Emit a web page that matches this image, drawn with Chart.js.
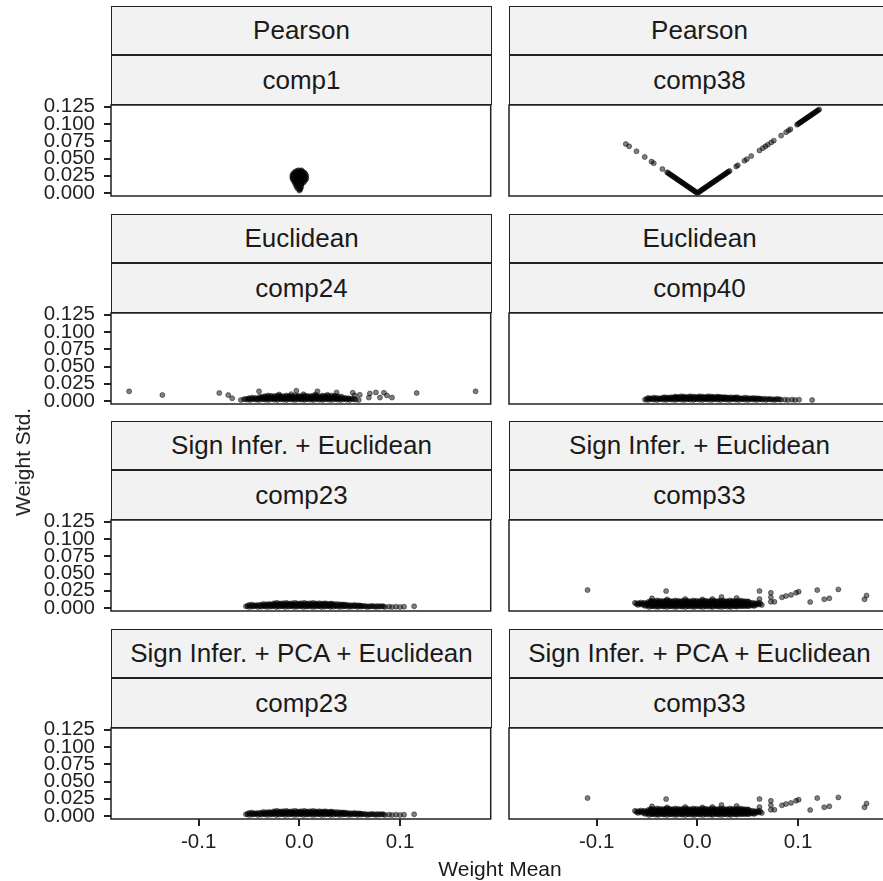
<!DOCTYPE html>
<html>
<head>
<meta charset="utf-8">
<script src="https://cdn.jsdelivr.net/npm/chart.js@4.4.1/dist/chart.umd.min.js"></script>
<style>
  html, body { margin: 0; padding: 0; background: #fff; overflow: hidden; }
  #page { position: relative; width: 883px; height: 881px; overflow: hidden;
          font-family: "Liberation Sans", Arial, sans-serif; color: #1a1a1a; }
  .strip { position: absolute; box-sizing: border-box; border: 1.2px solid #222; background: #f2f2f2;
           display: flex; align-items: center; justify-content: center; font-size: 26px; white-space: nowrap; }
  .axis-title { position: absolute; font-size: 21px; white-space: nowrap; }
  canvas { position: absolute; }
</style>
</head>
<body>
<div id="page"></div>
<script>
// facet labels, left to right, top to bottom
const methods = ['Pearson', 'Pearson', 'Euclidean', 'Euclidean',
  'Sign Infer. + Euclidean', 'Sign Infer. + Euclidean',
  'Sign Infer. + PCA + Euclidean', 'Sign Infer. + PCA + Euclidean'];
const components = ['comp1', 'comp38', 'comp24', 'comp40', 'comp23', 'comp33', 'comp23', 'comp33'];

const xTicks = [-0.1, 0, 0.1];
const yTicks = [0, 0.025, 0.05, 0.075, 0.1, 0.125];
const xRange = [-0.187, 0.19];
const yRange = [-0.0043, 0.1275];

// [weight mean, weight std]
const pearsonComp1 = [
  [-0.001, 0.033], [0.002, 0.033],
  [-0.0025, 0.032], [0.0005, 0.032], [0.003, 0.0315],
  [-0.004, 0.031], [-0.001, 0.030], [0.002, 0.031], [0.004, 0.030], [-0.002, 0.029],
  [-0.005, 0.0295], [0.0055, 0.029],
  [-0.006, 0.028], [-0.003, 0.028], [0.000, 0.027], [0.003, 0.028], [0.006, 0.027], [0.004, 0.026],
  [-0.0065, 0.0265], [-0.0015, 0.0265], [0.0015, 0.0265],
  [-0.007, 0.025], [-0.004, 0.025], [-0.001, 0.024], [0.002, 0.025], [0.005, 0.024], [0.007, 0.025],
  [-0.005, 0.023], [0.003, 0.0235], [-0.0055, 0.0235], [-0.0025, 0.023], [0.0005, 0.023], [0.006, 0.023],
  [-0.007, 0.022], [-0.004, 0.021], [-0.001, 0.022], [0.002, 0.021], [0.005, 0.022], [0.007, 0.021],
  [0.000, 0.0205], [-0.0065, 0.0205], [-0.0025, 0.0195], [0.0035, 0.0205], [0.0055, 0.0205],
  [-0.006, 0.019], [-0.003, 0.018], [0.000, 0.019], [0.003, 0.018], [0.006, 0.019],
  [-0.0045, 0.0175], [0.0015, 0.0175], [0.005, 0.017],
  [-0.005, 0.016], [-0.002, 0.015], [0.001, 0.016], [0.004, 0.015],
  [-0.0035, 0.0145], [0.0025, 0.0145],
  [-0.004, 0.013], [-0.001, 0.012], [0.002, 0.013],
  [-0.002, 0.0115], [0.0015, 0.011],
  [-0.003, 0.010], [0.000, 0.010], [0.002, 0.009], [-0.001, 0.0085],
  [-0.002, 0.007], [0.001, 0.007], [0.000, 0.005], [0.001, 0.0055], [0.000, 0.0035]
];

const pearsonComp38 = [
  [-0.071, 0.071], [-0.0677, 0.0677], [-0.0604, 0.0604], [-0.0522, 0.0522], [-0.0455, 0.0455],
  [-0.0433, 0.0433], [-0.0347, 0.0347],
  [-0.030, 0.030], [-0.029, 0.029], [-0.028, 0.028], [-0.027, 0.027], [-0.026, 0.026], [-0.025, 0.025],
  [-0.024, 0.024], [-0.023, 0.023], [-0.022, 0.022], [-0.021, 0.021], [-0.020, 0.020], [-0.019, 0.019],
  [-0.018, 0.018], [-0.017, 0.017], [-0.016, 0.016], [-0.015, 0.015], [-0.014, 0.014], [-0.013, 0.013],
  [-0.012, 0.012], [-0.011, 0.011], [-0.010, 0.010], [-0.009, 0.009], [-0.008, 0.008], [-0.007, 0.007],
  [-0.006, 0.006], [-0.005, 0.005], [-0.004, 0.004], [-0.003, 0.003], [-0.002, 0.002], [-0.001, 0.001],
  [0.000, 0.000], [0.001, 0.001], [0.002, 0.002], [0.003, 0.003], [0.004, 0.004], [0.005, 0.005],
  [0.006, 0.006], [0.007, 0.007], [0.008, 0.008], [0.009, 0.009], [0.010, 0.010], [0.011, 0.011],
  [0.012, 0.012], [0.013, 0.013], [0.014, 0.014], [0.015, 0.015], [0.016, 0.016], [0.017, 0.017],
  [0.018, 0.018], [0.019, 0.019], [0.020, 0.020], [0.021, 0.021], [0.022, 0.022], [0.023, 0.023],
  [0.024, 0.024], [0.025, 0.025], [0.026, 0.026], [0.027, 0.027], [0.028, 0.028], [0.029, 0.029],
  [0.030, 0.030], [0.031, 0.031], [0.032, 0.032],
  [0.0386, 0.0386], [0.0402, 0.0402], [0.0468, 0.0468], [0.0491, 0.0491], [0.0535, 0.0535],
  [0.0617, 0.0617], [0.065, 0.065], [0.0676, 0.0676], [0.070, 0.070], [0.0733, 0.0733],
  [0.0759, 0.0759], [0.0832, 0.0832], [0.0881, 0.0881], [0.0907, 0.0907], [0.0924, 0.0924],
  [0.099, 0.099], [0.100, 0.100], [0.101, 0.101], [0.102, 0.102], [0.103, 0.103], [0.104, 0.104],
  [0.105, 0.105], [0.106, 0.106], [0.107, 0.107], [0.108, 0.108], [0.109, 0.109], [0.110, 0.110],
  [0.111, 0.111], [0.112, 0.112], [0.113, 0.113], [0.114, 0.114], [0.115, 0.115], [0.116, 0.116],
  [0.117, 0.117], [0.118, 0.118], [0.119, 0.119], [0.120, 0.120], [0.121, 0.121]
];

const euclidComp24 = [
  [-0.169, 0.014], [-0.136, 0.0087], [-0.0795, 0.0116], [-0.0706, 0.0087], [-0.0667, 0.004],
  [-0.040, 0.014], [-0.003, 0.015], [0.018, 0.014], [0.037, 0.0125],
  [0.053, 0.012], [0.055, 0.008], [0.060, 0.009], [0.069, 0.005], [0.070, 0.011], [0.076, 0.0125],
  [0.080, 0.005], [0.084, 0.012], [0.087, 0.008], [0.092, 0.005], [0.1165, 0.0116], [0.175, 0.014],
  [-0.058, 0.0015], [-0.055, 0.0025], [-0.052, 0.002], [-0.049, 0.0015], [-0.046, 0.0025], [-0.043, 0.002],
  [-0.040, 0.0015], [-0.037, 0.0025], [-0.034, 0.002], [-0.031, 0.0015], [-0.028, 0.0025], [-0.025, 0.002],
  [-0.022, 0.0015], [-0.019, 0.0025], [-0.016, 0.002], [-0.013, 0.0015], [-0.010, 0.0025], [-0.007, 0.002],
  [-0.004, 0.0015], [-0.001, 0.0025], [0.002, 0.002], [0.005, 0.0015], [0.008, 0.0025], [0.011, 0.002],
  [0.014, 0.0015], [0.017, 0.0025], [0.020, 0.002], [0.023, 0.0015], [0.026, 0.0025], [0.029, 0.002],
  [0.032, 0.0015], [0.035, 0.0025], [0.038, 0.002], [0.041, 0.0015], [0.044, 0.0025], [0.047, 0.002],
  [0.050, 0.0015], [0.053, 0.0025], [0.056, 0.002], [0.059, 0.0015],
  [-0.0535, 0.003], [-0.0505, 0.0035], [-0.0475, 0.003], [-0.0445, 0.0035], [-0.0415, 0.003], [-0.0385, 0.0035],
  [-0.0355, 0.003], [-0.0325, 0.0035], [-0.0295, 0.003], [-0.0265, 0.0035], [-0.0235, 0.003], [-0.0205, 0.0035],
  [-0.0175, 0.003], [-0.0145, 0.0035], [-0.0115, 0.003], [-0.0085, 0.0035], [-0.0055, 0.003], [-0.0025, 0.0035],
  [0.0005, 0.003], [0.0035, 0.0035], [0.0065, 0.003], [0.0095, 0.0035], [0.0125, 0.003], [0.0155, 0.0035],
  [0.0185, 0.003], [0.0215, 0.0035], [0.0245, 0.003], [0.0275, 0.0035], [0.0305, 0.003], [0.0335, 0.0035],
  [0.0365, 0.003], [0.0395, 0.0035], [0.0425, 0.003], [0.0455, 0.0035], [0.0485, 0.003], [0.0515, 0.0035],
  [0.0545, 0.003],
  [-0.050, 0.004], [-0.047, 0.005], [-0.044, 0.0045], [-0.041, 0.004], [-0.038, 0.005], [-0.035, 0.0045],
  [-0.032, 0.004], [-0.029, 0.005], [-0.026, 0.0045], [-0.023, 0.004], [-0.020, 0.005], [-0.017, 0.0045],
  [-0.014, 0.004], [-0.011, 0.005], [-0.008, 0.0045], [-0.005, 0.004], [-0.002, 0.005], [0.001, 0.0045],
  [0.004, 0.004], [0.007, 0.005], [0.010, 0.0045], [0.013, 0.004], [0.016, 0.005], [0.019, 0.0045],
  [0.022, 0.004], [0.025, 0.005], [0.028, 0.0045], [0.031, 0.004], [0.034, 0.005], [0.037, 0.0045],
  [0.040, 0.004], [0.043, 0.005], [0.046, 0.0045], [0.049, 0.004],
  [-0.0395, 0.006], [-0.0365, 0.0065], [-0.0335, 0.006], [-0.0305, 0.0065], [-0.0275, 0.006], [-0.0245, 0.0065],
  [-0.0215, 0.006], [-0.0185, 0.0065], [-0.0155, 0.006], [-0.0125, 0.0065], [-0.0095, 0.006], [-0.0065, 0.0065],
  [-0.0035, 0.006], [-0.0005, 0.0065], [0.0025, 0.006], [0.0055, 0.0065], [0.0085, 0.006], [0.0115, 0.0065],
  [0.0145, 0.006], [0.0175, 0.0065], [0.0205, 0.006], [0.0235, 0.0065], [0.0265, 0.006], [0.0295, 0.0065],
  [0.0325, 0.006], [0.0355, 0.0065], [0.0385, 0.006], [0.0415, 0.0065],
  [-0.034, 0.007], [-0.031, 0.008], [-0.028, 0.0075], [-0.025, 0.007], [-0.022, 0.008], [-0.019, 0.0075],
  [-0.016, 0.007], [-0.013, 0.008], [-0.010, 0.0075], [-0.007, 0.007], [-0.004, 0.008], [-0.001, 0.0075],
  [0.002, 0.007], [0.005, 0.008], [0.008, 0.0075], [0.011, 0.007], [0.014, 0.008], [0.017, 0.0075],
  [0.020, 0.007], [0.023, 0.008], [0.026, 0.0075], [0.029, 0.007], [0.032, 0.008], [0.035, 0.0075],
  [0.038, 0.007],
  [-0.020, 0.0095], [-0.008, 0.010], [0.004, 0.0098], [0.016, 0.0095], [0.028, 0.009]
];

const euclidComp40 = [
  [-0.052, 0.002], [-0.049, 0.0015], [-0.046, 0.0025], [-0.043, 0.002], [-0.040, 0.0015], [-0.037, 0.0025],
  [-0.034, 0.002], [-0.031, 0.0015], [-0.028, 0.0025], [-0.025, 0.002], [-0.022, 0.0015], [-0.019, 0.0025],
  [-0.016, 0.002], [-0.013, 0.0015], [-0.010, 0.0025], [-0.007, 0.002], [-0.004, 0.0015], [-0.001, 0.0025],
  [0.002, 0.002], [0.005, 0.0015], [0.008, 0.0025], [0.011, 0.002], [0.014, 0.0015], [0.017, 0.0025],
  [0.020, 0.002], [0.023, 0.0015], [0.026, 0.0025], [0.029, 0.002], [0.032, 0.0015], [0.035, 0.0025],
  [0.038, 0.002], [0.041, 0.0015], [0.044, 0.0025], [0.047, 0.002], [0.050, 0.0015], [0.053, 0.0025],
  [0.056, 0.002], [0.059, 0.0015], [0.062, 0.0025], [0.065, 0.002], [0.068, 0.0015], [0.071, 0.0025],
  [0.074, 0.002], [0.077, 0.0015], [0.080, 0.0025], [0.083, 0.002],
  [0.087, 0.002], [0.090, 0.0015], [0.094, 0.002], [0.097, 0.0015], [0.101, 0.002], [0.114, 0.0015],
  [-0.0505, 0.003], [-0.0475, 0.0035], [-0.0445, 0.003], [-0.0415, 0.0035], [-0.0385, 0.003], [-0.0355, 0.0035],
  [-0.0325, 0.003], [-0.0295, 0.0035], [-0.0265, 0.003], [-0.0235, 0.0035], [-0.0205, 0.003], [-0.0175, 0.0035],
  [-0.0145, 0.003], [-0.0115, 0.0035], [-0.0085, 0.003], [-0.0055, 0.0035], [-0.0025, 0.003], [0.0005, 0.0035],
  [0.0035, 0.003], [0.0065, 0.0035], [0.0095, 0.003], [0.0125, 0.0035], [0.0155, 0.003], [0.0185, 0.0035],
  [0.0215, 0.003], [0.0245, 0.0035], [0.0275, 0.003], [0.0305, 0.0035], [0.0335, 0.003], [0.0365, 0.0035],
  [0.0395, 0.003], [0.0425, 0.0035], [0.0455, 0.003], [0.0485, 0.0035], [0.0515, 0.003], [0.0545, 0.0035],
  [0.0575, 0.003], [0.0605, 0.0035], [0.0635, 0.003], [0.0665, 0.0035], [0.0695, 0.003], [0.0725, 0.003],
  [0.0755, 0.0025], [0.0785, 0.003], [0.0815, 0.0025],
  [-0.049, 0.0045], [-0.046, 0.004], [-0.043, 0.005], [-0.040, 0.0045], [-0.037, 0.004], [-0.034, 0.005],
  [-0.031, 0.0045], [-0.028, 0.004], [-0.025, 0.005], [-0.022, 0.0045], [-0.019, 0.004], [-0.016, 0.005],
  [-0.013, 0.0045], [-0.010, 0.004], [-0.007, 0.005], [-0.004, 0.0045], [-0.001, 0.004], [0.002, 0.005],
  [0.005, 0.0045], [0.008, 0.004], [0.011, 0.005], [0.014, 0.0045], [0.017, 0.004], [0.020, 0.005],
  [0.023, 0.0045], [0.026, 0.004], [0.029, 0.005], [0.032, 0.0045], [0.035, 0.004], [0.038, 0.005],
  [0.041, 0.0045], [0.044, 0.004], [0.047, 0.005], [0.050, 0.0045], [0.053, 0.004], [0.056, 0.0045],
  [0.059, 0.004], [0.062, 0.0035],
  [-0.0325, 0.0055], [-0.0295, 0.005], [-0.0265, 0.0055], [-0.0235, 0.005], [-0.0205, 0.0055], [-0.0175, 0.005],
  [-0.0145, 0.0055], [-0.0115, 0.005], [-0.0085, 0.0055], [-0.0055, 0.005], [-0.0025, 0.0055], [0.0005, 0.005],
  [0.0035, 0.0055], [0.0065, 0.005], [0.0095, 0.0055], [0.0125, 0.005], [0.0155, 0.0055], [0.0185, 0.005],
  [0.0215, 0.0055], [0.0245, 0.005], [0.0275, 0.0055], [0.0305, 0.005], [0.0335, 0.0055], [0.0365, 0.005],
  [0.0395, 0.0055],
  [-0.022, 0.0065], [-0.019, 0.006], [-0.016, 0.007], [-0.013, 0.0065], [-0.010, 0.006], [-0.007, 0.007],
  [-0.004, 0.0065], [-0.001, 0.006], [0.002, 0.007], [0.005, 0.0065], [0.008, 0.006], [0.011, 0.007],
  [0.014, 0.0065], [0.017, 0.006], [0.020, 0.0065], [0.023, 0.006], [0.026, 0.0055]
];

const signEucComp23 = [
  [-0.053, 0.0025], [-0.050, 0.0015], [-0.047, 0.002], [-0.044, 0.0025], [-0.041, 0.0015], [-0.038, 0.002],
  [-0.035, 0.0025], [-0.032, 0.0015], [-0.029, 0.002], [-0.026, 0.0025], [-0.023, 0.0015], [-0.020, 0.002],
  [-0.017, 0.0025], [-0.014, 0.0015], [-0.011, 0.002], [-0.008, 0.0025], [-0.005, 0.0015], [-0.002, 0.002],
  [0.001, 0.0025], [0.004, 0.0015], [0.007, 0.002], [0.010, 0.0025], [0.013, 0.0015], [0.016, 0.002],
  [0.019, 0.0025], [0.022, 0.0015], [0.025, 0.002], [0.028, 0.0025], [0.031, 0.0015], [0.034, 0.002],
  [0.037, 0.0025], [0.040, 0.0015], [0.043, 0.002], [0.046, 0.0025], [0.049, 0.0015], [0.052, 0.002],
  [0.055, 0.0025], [0.058, 0.0015], [0.061, 0.002], [0.064, 0.0025], [0.067, 0.0015], [0.070, 0.002],
  [0.073, 0.0025], [0.076, 0.0015], [0.079, 0.002], [0.082, 0.0025], [0.085, 0.0015],
  [0.089, 0.002], [0.092, 0.0015], [0.096, 0.002], [0.100, 0.0015], [0.104, 0.002], [0.114, 0.0025],
  [-0.0515, 0.003], [-0.0485, 0.0035], [-0.0455, 0.003], [-0.0425, 0.0035], [-0.0395, 0.003], [-0.0365, 0.0035],
  [-0.0335, 0.003], [-0.0305, 0.0035], [-0.0275, 0.003], [-0.0245, 0.0035], [-0.0215, 0.003], [-0.0185, 0.0035],
  [-0.0155, 0.003], [-0.0125, 0.0035], [-0.0095, 0.003], [-0.0065, 0.0035], [-0.0035, 0.003], [-0.0005, 0.0035],
  [0.0025, 0.003], [0.0055, 0.0035], [0.0085, 0.003], [0.0115, 0.0035], [0.0145, 0.003], [0.0175, 0.0035],
  [0.0205, 0.003], [0.0235, 0.0035], [0.0265, 0.003], [0.0295, 0.0035], [0.0325, 0.003], [0.0355, 0.0035],
  [0.0385, 0.003], [0.0415, 0.0035], [0.0445, 0.003], [0.0475, 0.0035], [0.0505, 0.003], [0.0535, 0.0035],
  [0.0565, 0.003], [0.0595, 0.0035], [0.0625, 0.003], [0.0655, 0.003], [0.0685, 0.0025], [0.0715, 0.003],
  [0.0745, 0.0025], [0.0775, 0.003], [0.0805, 0.0025], [0.0835, 0.0025],
  [-0.050, 0.0045], [-0.047, 0.005], [-0.044, 0.004], [-0.041, 0.0045], [-0.038, 0.005], [-0.035, 0.004],
  [-0.032, 0.0045], [-0.029, 0.005], [-0.026, 0.004], [-0.023, 0.0045], [-0.020, 0.005], [-0.017, 0.004],
  [-0.014, 0.0045], [-0.011, 0.005], [-0.008, 0.004], [-0.005, 0.0045], [-0.002, 0.005], [0.001, 0.004],
  [0.004, 0.0045], [0.007, 0.005], [0.010, 0.004], [0.013, 0.0045], [0.016, 0.005], [0.019, 0.004],
  [0.022, 0.0045], [0.025, 0.005], [0.028, 0.004], [0.031, 0.0045], [0.034, 0.005], [0.037, 0.004],
  [0.040, 0.0045], [0.043, 0.005], [0.046, 0.004], [0.049, 0.0045], [0.052, 0.004], [0.055, 0.0045],
  [0.058, 0.004], [0.061, 0.0035],
  [-0.0355, 0.006], [-0.0325, 0.0055], [-0.0295, 0.006], [-0.0265, 0.0055], [-0.0235, 0.006], [-0.0205, 0.0055],
  [-0.0175, 0.006], [-0.0145, 0.0055], [-0.0115, 0.006], [-0.0085, 0.0055], [-0.0055, 0.006], [-0.0025, 0.0055],
  [0.0005, 0.006], [0.0035, 0.0055], [0.0065, 0.006], [0.0095, 0.0055], [0.0125, 0.006], [0.0155, 0.0055],
  [0.0185, 0.006], [0.0215, 0.0055], [0.0245, 0.006], [0.0275, 0.0055], [0.0305, 0.006], [0.0335, 0.0055],
  [0.0365, 0.006], [0.0395, 0.0055], [0.0425, 0.005], [0.0455, 0.005],
  [-0.025, 0.007], [-0.022, 0.0075], [-0.019, 0.0065], [-0.016, 0.007], [-0.013, 0.0075], [-0.010, 0.0065],
  [-0.007, 0.007], [-0.004, 0.0075], [-0.001, 0.0065], [0.002, 0.007], [0.005, 0.0075], [0.008, 0.0065],
  [0.011, 0.007], [0.014, 0.0075], [0.017, 0.0065], [0.020, 0.007], [0.023, 0.0065], [0.026, 0.007],
  [0.029, 0.006], [0.032, 0.0065]
];

const signEucComp33 = [
  [-0.109, 0.026], [-0.031, 0.0245],
  [0.0617, 0.0246], [0.0617, 0.013], [0.073, 0.022], [0.073, 0.0155], [0.073, 0.009], [0.0765, 0.009],
  [0.084, 0.0155], [0.088, 0.0174], [0.093, 0.019], [0.098, 0.022], [0.1006, 0.0237], [0.112, 0.0087],
  [0.119, 0.026], [0.126, 0.0126], [0.131, 0.014], [0.140, 0.027], [0.166, 0.0126], [0.168, 0.018],
  [-0.048, 0.0015], [-0.045, 0.0025], [-0.042, 0.002], [-0.039, 0.0015], [-0.036, 0.0025], [-0.033, 0.002],
  [-0.030, 0.0015], [-0.027, 0.0025], [-0.024, 0.002], [-0.021, 0.0015], [-0.018, 0.0025], [-0.015, 0.002],
  [-0.012, 0.0015], [-0.009, 0.0025], [-0.006, 0.002], [-0.003, 0.0015], [0.000, 0.0025], [0.003, 0.002],
  [0.006, 0.0015], [0.009, 0.0025], [0.012, 0.002], [0.015, 0.0015], [0.018, 0.0025], [0.021, 0.002],
  [0.024, 0.0015], [0.027, 0.0025], [0.030, 0.002], [0.033, 0.0015], [0.036, 0.0025], [0.039, 0.002],
  [0.042, 0.0025], [0.045, 0.003], [0.048, 0.0025], [0.051, 0.003],
  [-0.0515, 0.003], [-0.0485, 0.0035], [-0.0455, 0.003], [-0.0425, 0.0035], [-0.0395, 0.003], [-0.0365, 0.0035],
  [-0.0335, 0.003], [-0.0305, 0.0035], [-0.0275, 0.003], [-0.0245, 0.0035], [-0.0215, 0.003], [-0.0185, 0.0035],
  [-0.0155, 0.003], [-0.0125, 0.0035], [-0.0095, 0.003], [-0.0065, 0.0035], [-0.0035, 0.003], [-0.0005, 0.0035],
  [0.0025, 0.003], [0.0055, 0.0035], [0.0085, 0.003], [0.0115, 0.0035], [0.0145, 0.003], [0.0175, 0.0035],
  [0.0205, 0.003], [0.0235, 0.0035], [0.0265, 0.003], [0.0295, 0.0035], [0.0325, 0.003], [0.0355, 0.0035],
  [0.0385, 0.003], [0.0415, 0.0035], [0.0445, 0.003], [0.0475, 0.0035], [0.0505, 0.003], [0.0535, 0.0035],
  [0.0565, 0.003],
  [-0.059, 0.0045], [-0.056, 0.005], [-0.053, 0.004], [-0.050, 0.0045], [-0.047, 0.005], [-0.044, 0.004],
  [-0.041, 0.0045], [-0.038, 0.005], [-0.035, 0.004], [-0.032, 0.0045], [-0.029, 0.005], [-0.026, 0.004],
  [-0.023, 0.0045], [-0.020, 0.005], [-0.017, 0.004], [-0.014, 0.0045], [-0.011, 0.005], [-0.008, 0.004],
  [-0.005, 0.0045], [-0.002, 0.005], [0.001, 0.004], [0.004, 0.0045], [0.007, 0.005], [0.010, 0.004],
  [0.013, 0.0045], [0.016, 0.005], [0.019, 0.004], [0.022, 0.0045], [0.025, 0.005], [0.028, 0.004],
  [0.031, 0.0045], [0.034, 0.005], [0.037, 0.004], [0.040, 0.0045], [0.043, 0.005], [0.046, 0.004],
  [0.049, 0.0045], [0.052, 0.005], [0.055, 0.004], [0.058, 0.0045], [0.061, 0.005], [0.064, 0.0045],
  [-0.0605, 0.006], [-0.0575, 0.0065], [-0.0545, 0.006], [-0.0515, 0.0065], [-0.0485, 0.006], [-0.0455, 0.0065],
  [-0.0425, 0.006], [-0.0395, 0.0065], [-0.0365, 0.006], [-0.0335, 0.0065], [-0.0305, 0.006], [-0.0275, 0.0065],
  [-0.0245, 0.006], [-0.0215, 0.0065], [-0.0185, 0.006], [-0.0155, 0.0065], [-0.0125, 0.006], [-0.0095, 0.0065],
  [-0.0065, 0.006], [-0.0035, 0.0065], [-0.0005, 0.006], [0.0025, 0.0065], [0.0055, 0.006], [0.0085, 0.0065],
  [0.0115, 0.006], [0.0145, 0.0065], [0.0175, 0.006], [0.0205, 0.0065], [0.0235, 0.006], [0.0265, 0.0065],
  [0.0295, 0.006], [0.0325, 0.0065], [0.0355, 0.006], [0.0385, 0.0065], [0.0415, 0.006], [0.0445, 0.0065],
  [0.0475, 0.006], [0.0505, 0.0065], [0.0535, 0.006], [0.0565, 0.0065], [0.0595, 0.006], [0.0625, 0.0065],
  [-0.062, 0.0075], [-0.059, 0.007], [-0.056, 0.008], [-0.053, 0.0075], [-0.050, 0.007], [-0.047, 0.008],
  [-0.044, 0.0075], [-0.041, 0.007], [-0.038, 0.008], [-0.035, 0.0075], [-0.032, 0.007], [-0.029, 0.008],
  [-0.026, 0.0075], [-0.023, 0.007], [-0.020, 0.008], [-0.017, 0.0075], [-0.014, 0.007], [-0.011, 0.008],
  [-0.008, 0.0075], [-0.005, 0.007], [-0.002, 0.008], [0.001, 0.0075], [0.004, 0.007], [0.007, 0.008],
  [0.010, 0.0075], [0.013, 0.007], [0.016, 0.008], [0.019, 0.0075], [0.022, 0.007], [0.025, 0.008],
  [0.028, 0.0075], [0.031, 0.007], [0.034, 0.008], [0.037, 0.0075], [0.040, 0.007], [0.043, 0.008],
  [0.046, 0.0075], [0.049, 0.007], [0.052, 0.008], [0.055, 0.0075], [0.058, 0.007], [0.061, 0.0075],
  [-0.0485, 0.009], [-0.0455, 0.0095], [-0.0425, 0.009], [-0.0395, 0.0095], [-0.0365, 0.009], [-0.0335, 0.0095],
  [-0.0305, 0.009], [-0.0275, 0.0095], [-0.0245, 0.009], [-0.0215, 0.0095], [-0.0185, 0.009], [-0.0155, 0.0095],
  [-0.0125, 0.009], [-0.0095, 0.0095], [-0.0065, 0.009], [-0.0035, 0.0095], [-0.0005, 0.009], [0.0025, 0.0095],
  [0.0055, 0.009], [0.0085, 0.0095], [0.0115, 0.009], [0.0145, 0.0095], [0.0175, 0.009], [0.0205, 0.0095],
  [0.0235, 0.009], [0.0265, 0.0095], [0.0295, 0.009], [0.0325, 0.0095], [0.0355, 0.009], [0.0385, 0.0095],
  [0.0415, 0.009], [0.0445, 0.0095], [0.0475, 0.009], [0.0505, 0.0095],
  [-0.046, 0.0105], [-0.043, 0.010], [-0.040, 0.011], [-0.037, 0.0105], [-0.034, 0.010], [-0.031, 0.011],
  [-0.028, 0.0105], [-0.025, 0.010], [-0.022, 0.011], [-0.019, 0.0105], [-0.016, 0.010], [-0.013, 0.011],
  [-0.010, 0.0105], [-0.007, 0.010], [-0.004, 0.011], [-0.001, 0.0105], [0.002, 0.010], [0.005, 0.011],
  [0.008, 0.0105], [0.011, 0.010], [0.014, 0.011], [0.017, 0.0105], [0.020, 0.010], [0.023, 0.011],
  [0.026, 0.0105], [0.029, 0.010], [0.032, 0.011], [0.035, 0.0105], [0.038, 0.010], [0.041, 0.011],
  [0.044, 0.0105], [0.047, 0.010], [0.050, 0.0095],
  [-0.045, 0.014], [-0.030, 0.0125], [-0.012, 0.013], [0.005, 0.0125], [0.015, 0.013], [0.024, 0.016],
  [0.039, 0.0145]
];

// the PCA variant looks the same as the plain sign-inference one for these components
const signPcaEucComp23 = signEucComp23;
const signPcaEucComp33 = signEucComp33;

const panelData = [pearsonComp1, pearsonComp38, euclidComp24, euclidComp40,
  signEucComp23, signEucComp33, signPcaEucComp23, signPcaEucComp33];

const FONT = '"Liberation Sans", Arial, sans-serif';
const INK = '#222';
const colX = [[111, 492], [509, 890]];
const rowY = [6, 214, 421, 629];
const STRIP1 = 49, STRIP2 = 50, PLOT_H = 91, PAD = 22, X_AXIS_H = 55;

const page = document.getElementById('page');

// black frame around each panel
const panelBorder = {
  id: 'panelBorder',
  afterDatasetsDraw(chart) {
    const { ctx, chartArea: a } = chart;
    ctx.save();
    ctx.strokeStyle = INK;
    ctx.lineWidth = 1.5;
    ctx.strokeRect(a.left, a.top, a.right - a.left, a.bottom - a.top);
    ctx.restore();
  }
};

function addStrip(text, left, top, width, height) {
  const div = document.createElement('div');
  div.className = 'strip';
  div.style.left = left + 'px';
  div.style.top = top + 'px';
  div.style.width = width + 'px';
  div.style.height = height + 'px';
  div.textContent = text;
  page.appendChild(div);
}

function addTitle(text, x, y, rotate) {
  const div = document.createElement('div');
  div.className = 'axis-title';
  div.style.left = x + 'px';
  div.style.top = y + 'px';
  div.style.transform = 'translate(-50%, -50%)' + (rotate ? ' rotate(-90deg)' : '');
  div.textContent = text;
  page.appendChild(div);
}

panelData.forEach((points, i) => {
  const row = Math.floor(i / 2);
  const col = i % 2;
  const [x0, x1] = colX[col];
  const top = rowY[row];
  const bottomRow = row === rowY.length - 1;
  const leftCol = col === 0;

  addStrip(methods[i], x0, top, x1 - x0, STRIP1);
  addStrip(components[i], x0, top + STRIP1, x1 - x0, STRIP2);

  const plotTop = top + STRIP1 + STRIP2;
  const left = leftCol ? 0 : x0 - 8;
  const w = x1 + 2 - left;
  const h = PAD + PLOT_H + (bottomRow ? X_AXIS_H : PAD);

  const canvas = document.createElement('canvas');
  canvas.width = w;
  canvas.height = h;
  canvas.style.left = left + 'px';
  canvas.style.top = (plotTop - PAD) + 'px';
  page.appendChild(canvas);

  new Chart(canvas, {
    type: 'scatter',
    data: {
      datasets: [{
        data: points.map(([x, y]) => ({ x, y })),
        pointRadius: 2.5,
        pointHoverRadius: 2.5,
        backgroundColor: 'rgba(0,0,0,0.5)',
        borderColor: 'rgba(0,0,0,0.55)',
        borderWidth: 0.8
      }]
    },
    options: {
      responsive: false,
      animation: false,
      events: [],
      layout: { padding: { top: PAD, bottom: bottomRow ? 0 : PAD, left: leftCol ? 0 : 8, right: 2 } },
      plugins: { legend: { display: false }, tooltip: { enabled: false } },
      scales: {
        x: {
          type: 'linear',
          min: xRange[0],
          max: xRange[1],
          display: bottomRow,
          afterBuildTicks: s => { s.ticks = xTicks.map(v => ({ value: v })); },
          afterFit: s => { if (bottomRow) s.height = X_AXIS_H; },
          ticks: {
            autoSkip: false,
            maxRotation: 0,
            padding: 4,
            color: INK,
            font: { family: FONT, size: 20.5 },
            callback: v => v.toFixed(1)
          },
          grid: { drawOnChartArea: false, drawTicks: true, tickLength: 7, color: INK, lineWidth: 2 },
          border: { display: false }
        },
        y: {
          type: 'linear',
          min: yRange[0],
          max: yRange[1],
          display: leftCol,
          afterBuildTicks: s => { s.ticks = yTicks.map(v => ({ value: v })); },
          afterFit: s => { if (leftCol) s.width = x0; },
          ticks: {
            autoSkip: false,
            padding: 9,
            color: INK,
            font: { family: FONT, size: 20.5 },
            callback: v => v.toFixed(3)
          },
          grid: { drawOnChartArea: false, drawTicks: true, tickLength: 7, color: INK, lineWidth: 2 },
          border: { display: false }
        }
      }
    },
    plugins: [panelBorder]
  });
});

addTitle('Weight Mean', 500, 869, false);
addTitle('Weight Std.', 23, 462, true);
</script>
</body>
</html>
